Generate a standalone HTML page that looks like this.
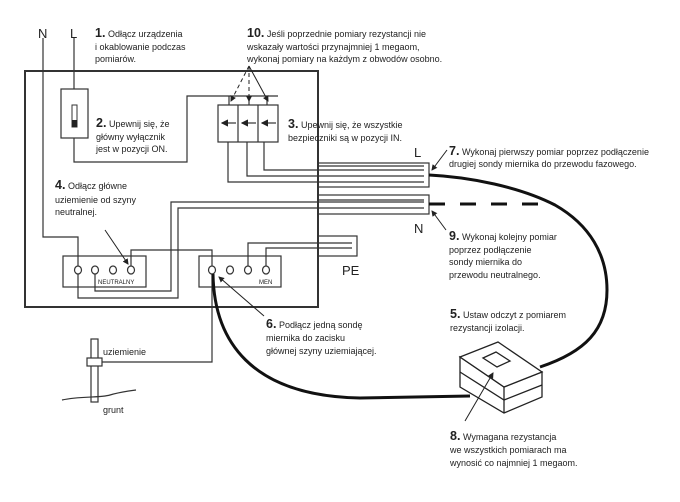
<!DOCTYPE html>
<html><head><meta charset="utf-8"><style>
html,body{margin:0;padding:0;background:#fff}
svg{display:block}
text{font-family:"Liberation Sans",sans-serif;font-size:9px;fill:#222}
.n{font-size:12.5px;font-weight:bold}
.big{font-size:13px}
</style></head><body>
<svg width="680" height="502" viewBox="0 0 680 502" xmlns="http://www.w3.org/2000/svg">
<defs><marker id="a" markerWidth="6" markerHeight="6" refX="5" refY="3" orient="auto"><path d="M0,0L6,3L0,6z" fill="#222"/></marker></defs>
<g fill="none" stroke="#333" stroke-width="1.2">
<rect x="25" y="71" width="293" height="236" stroke-width="2"/>
<polyline points="43,38 43,237 78,237 78,266"/>
<polyline points="74,38 74,89"/>
<rect x="61" y="89" width="27" height="49"/>
<rect x="72" y="105" width="5" height="22" stroke-width="1"/>
<polyline points="74,138 74,162 187,162 187,96 278,96"/>
<line x1="229" y1="96" x2="229" y2="105"/><line x1="249" y1="96" x2="249" y2="105"/><line x1="267" y1="96" x2="267" y2="105"/>
<rect x="218" y="105" width="60" height="37"/>
<line x1="238" y1="105" x2="238" y2="142"/><line x1="258" y1="105" x2="258" y2="142"/>
<line x1="236" y1="123" x2="222" y2="123" marker-end="url(#a)"/>
<line x1="256" y1="123" x2="242" y2="123" marker-end="url(#a)"/>
<line x1="276" y1="123" x2="262" y2="123" marker-end="url(#a)"/>
<polyline points="228,142 228,182 424,182"/>
<polyline points="247,142 247,176 424,176"/>
<polyline points="264,142 264,170 424,170"/>
<line x1="318" y1="166" x2="424" y2="166"/>
<rect x="318" y="163" width="111" height="24"/>
<rect x="318" y="195" width="111" height="19"/>
<line x1="318" y1="200" x2="424" y2="200"/>
<polyline points="95,274 95,291 171,291 171,202 424,202"/>
<polyline points="78,274 78,298 178,298 178,208 424,208"/>
<rect x="63" y="256" width="83" height="31"/>
<polyline points="131,266 131,250 212,250 212,266"/>
<rect x="199" y="256" width="82" height="31"/>
<polyline points="248,266 248,243 352,243"/>
<polyline points="266,266 266,248 352,248"/>
<rect x="318" y="236" width="39" height="20"/>
<polyline points="212,274 212,362 99,362"/>
<rect x="91" y="339" width="7" height="63" fill="#fff"/>
<rect x="87" y="358" width="15" height="8" fill="#fff"/>
<path d="M62,400 C80,396 100,398 110,395 C120,392 128,391 136,390"/>
</g>
<g fill="#fff" stroke="#333" stroke-width="1.2">
<ellipse cx="78" cy="270" rx="3.5" ry="4"/><ellipse cx="95" cy="270" rx="3.5" ry="4"/><ellipse cx="113" cy="270" rx="3.5" ry="4"/><ellipse cx="131" cy="270" rx="3.5" ry="4"/>
<ellipse cx="212" cy="270" rx="3.5" ry="4"/><ellipse cx="230" cy="270" rx="3.5" ry="4"/><ellipse cx="248" cy="270" rx="3.5" ry="4"/><ellipse cx="266" cy="270" rx="3.5" ry="4"/>
</g>
<rect x="72" y="120" width="5" height="7" fill="#222"/>
<g fill="none" stroke="#111" stroke-width="3">
<path d="M429,175 C470,177 520,187 555,205 C590,225 607,255 607,290 C607,330 585,352 540,367"/>
<path d="M213,274 C214,340 250,396 360,398 L470,396"/>
<line x1="429" y1="204" x2="553" y2="204" stroke-dasharray="16,15"/>
</g>
<g fill="#fff" stroke="#222" stroke-width="1.3">
<path d="M460,357 L460,387 L504,413 L542,397 L542,372 L504,387 Z"/>
<path d="M460,372 L504,400 L542,385" fill="none"/>
<path d="M460,357 L498,342 L542,372 L504,387 Z"/>
<path d="M483,358 L496,352 L510,361 L497,367 Z"/>
<line x1="504" y1="387" x2="504" y2="413"/>
</g>
<g stroke="#222" stroke-width="1" fill="none">
<line x1="249" y1="66" x2="231" y2="101" stroke-dasharray="4,3" marker-end="url(#a)"/>
<line x1="249" y1="66" x2="249" y2="101" stroke-dasharray="4,3" marker-end="url(#a)"/>
<line x1="249" y1="66" x2="268" y2="101" marker-end="url(#a)"/>
<line x1="105" y1="230" x2="128" y2="264" marker-end="url(#a)"/>
<line x1="264" y1="316" x2="219" y2="277" marker-end="url(#a)"/>
<line x1="447" y1="150" x2="432" y2="170" marker-end="url(#a)"/>
<line x1="446" y1="230" x2="432" y2="211" marker-end="url(#a)"/>
<line x1="465" y1="421" x2="493" y2="373" marker-end="url(#a)"/>
</g>
<text class="big" x="38" y="38">N</text>
<text class="big" x="70" y="38">L</text>
<text x="95" y="37"><tspan class="n">1.</tspan> Odłącz urządzenia</text>
<text x="95" y="50">i okablowanie podczas</text>
<text x="95" y="62">pomiarów.</text>
<text x="247" y="37"><tspan class="n">10.</tspan> Jeśli poprzednie pomiary rezystancji nie</text>
<text x="247" y="50">wskazały wartości przynajmniej 1 megaom,</text>
<text x="247" y="62">wykonaj pomiary na każdym z obwodów osobno.</text>
<text x="96" y="127"><tspan class="n">2.</tspan> Upewnij się, że</text>
<text x="96" y="140">główny wyłącznik</text>
<text x="96" y="152">jest w pozycji ON.</text>
<text x="288" y="128"><tspan class="n">3.</tspan> Upewnij się, że wszystkie</text>
<text x="288" y="141">bezpieczniki są w pozycji IN.</text>
<text x="55" y="189"><tspan class="n">4.</tspan> Odłącz główne</text>
<text x="55" y="203">uziemienie od szyny</text>
<text x="55" y="215">neutralnej.</text>
<text x="449" y="155"><tspan class="n">7.</tspan> Wykonaj pierwszy pomiar poprzez podłączenie</text>
<text x="449" y="167">drugiej sondy miernika do przewodu fazowego.</text>
<text class="big" x="414" y="157">L</text>
<text class="big" x="414" y="233">N</text>
<text class="big" x="342" y="275">PE</text>
<text x="449" y="240"><tspan class="n">9.</tspan> Wykonaj kolejny pomiar</text>
<text x="449" y="253">poprzez podłączenie</text>
<text x="449" y="265">sondy miernika do</text>
<text x="449" y="278">przewodu neutralnego.</text>
<text x="266" y="328"><tspan class="n">6.</tspan> Podłącz jedną sondę</text>
<text x="266" y="341">miernika do zacisku</text>
<text x="266" y="354">głównej szyny uziemiającej.</text>
<text x="450" y="318"><tspan class="n">5.</tspan> Ustaw odczyt z pomiarem</text>
<text x="450" y="331">rezystancji izolacji.</text>
<text x="450" y="440"><tspan class="n">8.</tspan> Wymagana rezystancja</text>
<text x="450" y="453">we wszystkich pomiarach ma</text>
<text x="450" y="466">wynosić co najmniej 1 megaom.</text>
<text x="103" y="355">uziemienie</text>
<text x="103" y="413">grunt</text>
<text x="98" y="284" style="font-size:6px">NEUTRALNY</text>
<text x="259" y="284" style="font-size:6px">MEN</text>
</svg>
</body></html>
